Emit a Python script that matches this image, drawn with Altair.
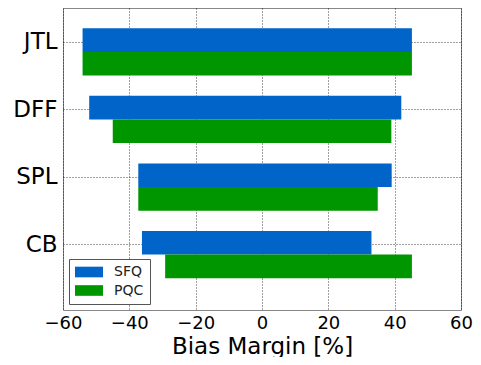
import altair as alt
import pandas as pd

# categories from bottom to top
categories = ["CB", "SPL", "DFF", "JTL"]
series = ["SFQ", "PQC"]
sfq_low = [-36.2, -37.3, -52.1, -54.1]
sfq_high = [33.0, 39.1, 42.0, 45.2]
pqc_low = [-29.2, -37.3, -45.0, -54.1]
pqc_high = [45.2, 34.9, 39.0, 45.2]
colors = ["#0064c8", "#009600"]

bar_h = 0.35
rows = []
for i, c in enumerate(categories):
    rows.append({"cat": c, "series": "SFQ", "lo": sfq_low[i], "hi": sfq_high[i],
                 "y0": i + bar_h, "y1": i + 2 * bar_h})
    rows.append({"cat": c, "series": "PQC", "lo": pqc_low[i], "hi": pqc_high[i],
                 "y0": i, "y1": i + bar_h})
df = pd.DataFrame(rows)

label_arr = "[" + ",".join("'%s'" % c for c in categories) + "]"

chart = alt.Chart(df).mark_bar().encode(
    x=alt.X("lo:Q", scale=alt.Scale(domain=[-60, 60], nice=False),
            axis=alt.Axis(title="Bias Margin [%]", values=[-60, -40, -20, 0, 20, 40, 60],
                          grid=True, ticks=False, labelPadding=4, titlePadding=3,
                          labelFontSize=18, titleFontSize=23, titleFontWeight="normal",
                          labelFlush=False)),
    x2="hi:Q",
    y=alt.Y("y0:Q", scale=alt.Scale(domain=[-0.47, 4.0], nice=False, zero=False),
            axis=alt.Axis(title=None, values=[i + 0.5 for i in range(len(categories))],
                          labelExpr=label_arr + "[floor(datum.value)]",
                          grid=True, ticks=False, labelPadding=6, labelFontSize=23)),
    y2="y1:Q",
    color=alt.Color("series:N", scale=alt.Scale(domain=series, range=colors),
                    legend=alt.Legend(title=None, orient="bottom-left", offset=6,
                                      symbolType="M-2,-0.76L2,-0.76L2,0.76L-2,0.76Z",
                                      symbolSize=196, symbolStrokeWidth=0,
                                      symbolOffset=7,
                                      labelFontSize=14, labelOffset=18,
                                      padding=6, rowPadding=4.5,
                                      strokeColor="#555555", fillColor="white",
                                      cornerRadius=0)),
).properties(
    width=398, height=302,
    autosize=alt.AutoSizeParams(type="none"),
    padding={"left": 55, "top": 0, "right": 12, "bottom": 47},
).configure_axis(
    labelFont="DejaVu Sans", titleFont="DejaVu Sans", labelColor="black", titleColor="black",
    domain=False, gridColor="black", gridDash=[1, 2], gridOpacity=0.75, gridWidth=1,
).configure_legend(
    labelFont="DejaVu Sans", labelColor="#222222",
).configure_view(
    stroke="#888888", strokeWidth=1,
)

chart.save("out.html", embed_options={"renderer": "svg", "actions": False})
